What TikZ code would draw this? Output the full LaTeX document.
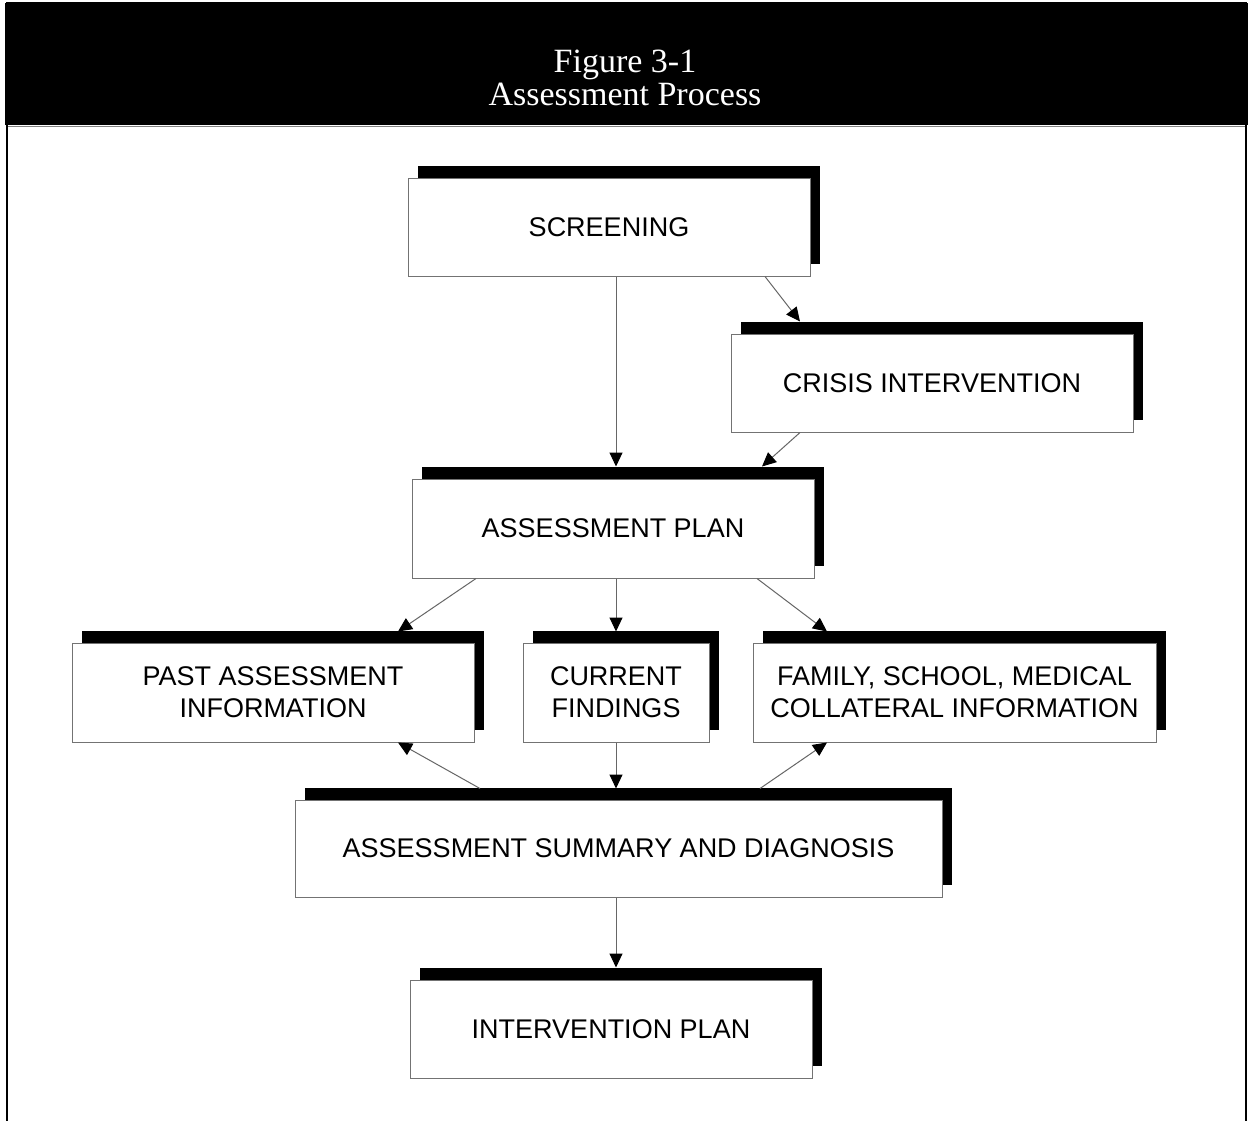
\documentclass[tikz,border=0pt]{standalone}
\usepackage{fontspec}
\setmainfont{Liberation Sans}
\newfontfamily\titlefont{Liberation Serif}
\usetikzlibrary{arrows.meta,shadows}
\begin{document}
\begin{tikzpicture}[x=1pt,y=-1pt,
  stepbox/.style={draw=black!55, line width=1pt, fill=white, align=center,
    inner sep=0pt, font=\fontsize{27}{32}\selectfont,
    general shadow={fill=black, shadow xshift=10pt, shadow yshift=12pt}},
  conn/.style={draw=black!60, line width=1pt,
    -{Triangle[length=14pt,width=13pt,color=black]}}]
\useasboundingbox (0,0) rectangle (1251,1120);
\fill[white] (0,0) rectangle (1251,1120);
% frame and header
\fill[black] (5,3) rectangle (1248,125);
\draw[black, line width=2.5pt] (7,1122) -- (7,3) -- (1246,3) -- (1246,1122);
\draw[black!50, line width=1pt] (8,126.5) -- (1245,126.5);
\node[text=white, font=\titlefont\fontsize{34}{33}\selectfont, align=center] (title) at (625,78)
  {Figure 3-1\\Assessment Process};
% boxes
\node[stepbox, minimum width=402, minimum height=98] (scr) at (609,227) {SCREENING};
\node[stepbox, minimum width=402, minimum height=98] (cri) at (932,383) {CRISIS INTERVENTION};
\node[stepbox, minimum width=402, minimum height=99] (ap) at (613,528.5) {ASSESSMENT PLAN};
\node[stepbox, minimum width=402, minimum height=99] (past) at (273,692.5) {PAST ASSESSMENT\\INFORMATION};
\node[stepbox, minimum width=186, minimum height=99] (cur) at (616,692.5) {CURRENT\\FINDINGS};
\node[stepbox, minimum width=403, minimum height=99] (fam) at (954.5,692.5) {FAMILY, SCHOOL, MEDICAL\\COLLATERAL INFORMATION};
\node[stepbox, minimum width=647, minimum height=97] (sum) at (618.5,848.5) {ASSESSMENT SUMMARY AND DIAGNOSIS};
\node[stepbox, minimum width=402, minimum height=98] (ip) at (611,1029) {INTERVENTION PLAN};
% connectors
\draw[conn] ([xshift=7pt]scr.south) -- ([xshift=3pt,yshift=12pt]ap.north);
\draw[conn] ([xshift=156pt]scr.south) -- ([xshift=-132pt,yshift=12pt]cri.north);
\draw[conn] ([xshift=-132pt]cri.south) -- ([xshift=149pt,yshift=12pt]ap.north);
\draw[conn] ([xshift=-137pt]ap.south) -- ([xshift=125pt,yshift=11pt]past.north);
\draw[conn] ([xshift=3pt]ap.south) -- ([yshift=11pt]cur.north);
\draw[conn] ([xshift=144pt]ap.south) -- ([xshift=-127.5pt,yshift=11pt]fam.north);
\draw[conn] ([xshift=-138.5pt,yshift=11pt]sum.north) -- ([xshift=125pt]past.south);
\draw[conn] (cur.south) -- ([xshift=-2.5pt,yshift=11pt]sum.north);
\draw[conn] ([xshift=141.5pt,yshift=11pt]sum.north) -- ([xshift=-127.5pt]fam.south);
\draw[conn] ([xshift=-2.5pt]sum.south) -- ([xshift=5pt,yshift=12pt]ip.north);
\end{tikzpicture}
\end{document}
